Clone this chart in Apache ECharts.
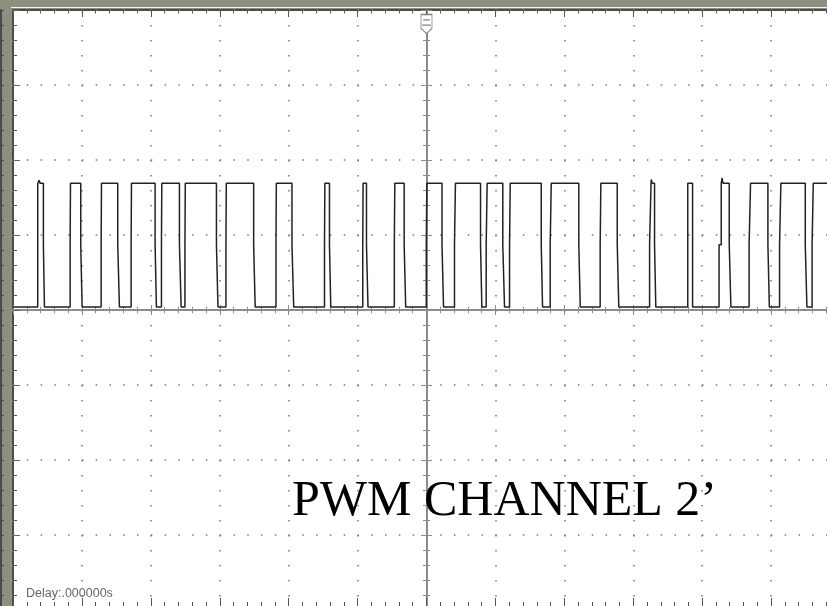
<!DOCTYPE html>
<html>
<head>
<meta charset="utf-8">
<title>PWM CHANNEL 2’</title>
<script src="https://cdn.jsdelivr.net/npm/echarts@6/dist/echarts.min.js"></script>
<style>
  html, body { margin: 0; padding: 0; background: #8d8f81; }
  #scope { width: 827px; height: 606px; }
</style>
</head>
<body>
<div id="scope"></div>
<script>
// Time axis in divisions (12 across), voltage axis in divisions (8 high)
const timeDivs = [-6, 6];
const voltDivs = [-4, 4];

// Trace levels (divisions above the centre line)
const LOW = 0.04;
const MID = 0.87;   // sample caught half-way through each edge
const HIGH = 1.69;

// Rising edges: time trace leaves low / time it reaches high
const riseStart = [-5.641, -5.171, -4.721, -4.286, -3.846, -3.505, -2.910, -2.184, -1.480, -0.925, -0.467, -0.003, 0.406, 0.866, 1.205, 1.795, 2.520, 3.237, 3.791, 4.245, 4.681, 5.123, 5.595];
const riseEnd   = [-5.641, -5.166, -4.716, -4.281, -3.841, -3.500, -2.905, -2.179, -1.475, -0.920, -0.460, 0.005, 0.420, 0.880, 1.215, 1.810, 2.530, 3.258, 3.791, 4.277, 4.702, 5.142, 5.612];
// Falling edges: time trace leaves high / time it reaches low
const fallStart = [-5.559, -5.017, -4.480, -3.938, -3.585, -3.048, -2.508, -1.952, -1.408, -0.871, -0.324, 0.225, 0.784, 1.107, 1.665, 2.210, 2.768, 3.309, 3.861, 4.393, 4.954, 5.496];
const fallEnd   = [-5.544, -4.997, -4.456, -3.919, -3.560, -3.026, -2.486, -1.927, -1.389, -0.849, -0.302, 0.247, 0.803, 1.132, 1.684, 2.231, 2.790, 3.327, 3.861, 4.417, 4.975, 5.520];

// Overshoot spikes on the high level: [time, peak level]
const spikeTimes  = [-5.620, 3.262, 4.290];
const spikeLevels = [1.73, 1.74, 1.76];

const titleText = 'PWM CHANNEL 2’';
const delayText = 'Delay:.000000s';

// Level changes as [time, new level]; drawn with step:'end'
const trace = [[timeDivs[0], LOW]];
riseStart.forEach((t, i) => {
  trace.push([t, MID], [riseEnd[i], HIGH]);
  if (i < fallStart.length) {
    trace.push([fallStart[i], MID], [fallEnd[i], LOW]);
  }
});
spikeTimes.forEach((t, i) => {
  trace.push([t, spikeLevels[i]], [t + 0.012, HIGH]);
});
trace.sort((a, b) => a[0] - b[0]);
trace.push([timeDivs[1], fallStart.length < riseStart.length ? HIGH : LOW]);

const hidden = { show: false };

function timeAxis(extra) {
  return Object.assign({
    type: 'value', min: timeDivs[0], max: timeDivs[1], interval: 1,
    axisLabel: hidden, splitLine: hidden
  }, extra);
}
function voltAxis(extra) {
  return Object.assign({
    type: 'value', min: voltDivs[0], max: voltDivs[1], interval: 1,
    axisLabel: hidden, splitLine: hidden
  }, extra);
}

const chart = echarts.init(document.getElementById('scope'), null, { renderer: 'canvas' });

chart.setOption({
  backgroundColor: '#8d8f81',
  animation: false,
  title: [
    {
      text: titleText, left: 292, top: 477, padding: 0,
      textStyle: { fontFamily: 'Liberation Serif', fontSize: 50, fontWeight: 'normal', color: '#000' }
    },
    {
      text: delayText, left: 26, top: 587, padding: 0,
      textStyle: { fontFamily: 'Liberation Sans', fontSize: 12.5, fontWeight: 'normal', color: '#666' }
    }
  ],
  grid: {
    left: 13, top: 10, right: -13, bottom: -4,
    show: true, backgroundColor: '#fff', borderColor: '#4a4a4a', borderWidth: 2,
    outerBoundsMode: 'none'
  },
  xAxis: [
    // bottom edge: dotted vertical graticule + upward ticks
    timeAxis({
      position: 'bottom',
      axisLine: { show: false, onZero: false },
      axisTick: { show: true, inside: true, length: 12, lineStyle: { color: '#555', width: 1 } },
      minorTick: { show: true, splitNumber: 5, length: 8, lineStyle: { color: '#555', width: 1 } },
      splitLine: { show: true, lineStyle: { color: '#777', width: 1.5, type: [1.5, 13.5] } }
    }),
    // top edge: downward ticks
    timeAxis({
      position: 'top',
      axisLine: { show: false, onZero: false },
      axisTick: { show: true, inside: true, length: 7, lineStyle: { color: '#555', width: 1 } },
      minorTick: { show: true, splitNumber: 5, length: 3.5, lineStyle: { color: '#555', width: 1 } }
    }),
    // centre horizontal line, ticks above
    timeAxis({
      position: 'bottom',
      axisLine: { show: true, onZero: true, onZeroAxisIndex: 0, lineStyle: { color: '#8c8c8c', width: 2 } },
      axisTick: { show: true, inside: true, length: 5, lineStyle: { color: '#8c8c8c', width: 1 } },
      minorTick: { show: true, splitNumber: 5, length: 3.3, lineStyle: { color: '#8c8c8c', width: 1 } }
    }),
    // centre horizontal line, ticks below
    timeAxis({
      position: 'bottom',
      axisLine: { show: false, onZero: true, onZeroAxisIndex: 0 },
      axisTick: { show: true, inside: false, length: 5, lineStyle: { color: '#8c8c8c', width: 1 } },
      minorTick: { show: true, splitNumber: 5, length: 3.3, lineStyle: { color: '#8c8c8c', width: 1 } }
    })
  ],
  yAxis: [
    // left edge: dotted horizontal graticule + inward ticks
    voltAxis({
      position: 'left',
      axisLine: { show: false, onZero: false },
      axisTick: { show: true, inside: true, length: 7, lineStyle: { color: '#666', width: 1 } },
      minorTick: { show: true, splitNumber: 5, length: 4, lineStyle: { color: '#555', width: 1 } },
      splitLine: { show: true, lineStyle: { color: '#777', width: 1.5, type: [1.5, 12.28] } }
    }),
    // centre vertical line, ticks to the right
    voltAxis({
      position: 'left',
      axisLine: { show: true, onZero: true, onZeroAxisIndex: 0, lineStyle: { color: '#8c8c8c', width: 2 } },
      axisTick: { show: true, inside: true, length: 5.5, lineStyle: { color: '#8c8c8c', width: 1 } },
      minorTick: { show: true, splitNumber: 5, length: 3.5, lineStyle: { color: '#8c8c8c', width: 1 } }
    }),
    // centre vertical line, ticks to the left
    voltAxis({
      position: 'left',
      axisLine: { show: false, onZero: true, onZeroAxisIndex: 0 },
      axisTick: { show: true, inside: false, length: 5.5, lineStyle: { color: '#8c8c8c', width: 1 } },
      minorTick: { show: true, splitNumber: 5, length: 3.5, lineStyle: { color: '#8c8c8c', width: 1 } }
    }),
    // neighbouring panel edge on the far left
    voltAxis({
      position: 'left', offset: 12,
      axisLine: { show: true, onZero: false, lineStyle: { color: '#4a4a4a', width: 2 } },
      axisTick: { show: true, inside: true, length: 3, lineStyle: { color: '#4a4a4a', width: 1 } },
      minorTick: { show: true, splitNumber: 5, length: 3, lineStyle: { color: '#4a4a4a', width: 1 } }
    })
  ],
  series: [
    {
      name: 'CH2',
      type: 'line',
      xAxisIndex: 0,
      yAxisIndex: 0,
      step: 'end',
      showSymbol: false,
      silent: true,
      data: trace,
      lineStyle: { color: '#222', width: 1.5 },
      markPoint: {
        silent: true,
        symbol: 'path://M0,0 L10,0 L10,13 L5,18 L0,13 Z M2,5 L8,5 M1,10 L9,10',
        symbolSize: [11, 19],
        itemStyle: { color: '#fff', borderColor: '#808080', borderWidth: 1 },
        label: { show: false },
        data: [{ coord: [0, 3.813] }]
      }
    }
  ],
  graphic: [
    {
      type: 'line', silent: true,
      shape: { x1: 11, y1: 7.5, x2: 827, y2: 7.5 },
      style: { stroke: '#f4f4f0', lineWidth: 1 }
    }
  ]
});
</script>
</body>
</html>
